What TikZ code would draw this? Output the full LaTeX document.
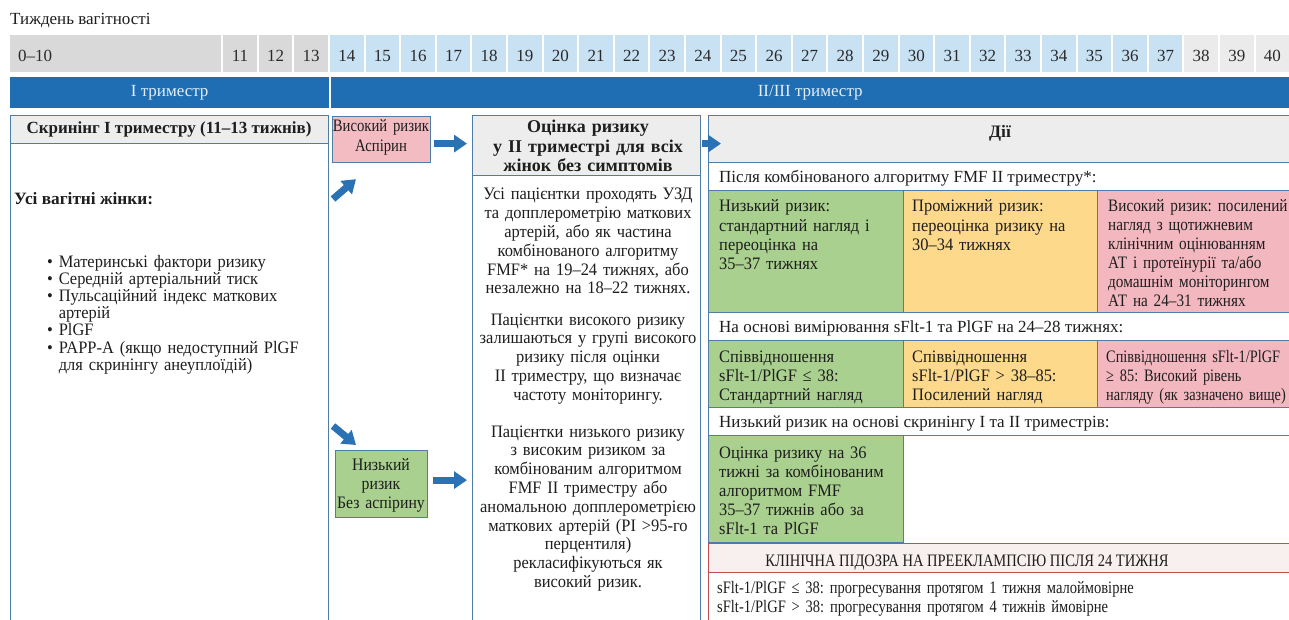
\documentclass[tikz,border=0pt]{standalone}
\usepackage{fontspec}
\setmainfont{Liberation Serif}[FakeStretch=0.94]
\newfontfamily\fw{Liberation Serif}
\newfontfamily\fn{Liberation Serif}[FakeStretch=0.87]
\newfontfamily\fnn{Liberation Serif}[FakeStretch=0.82]
\newfontfamily\fc{Liberation Serif}[FakeStretch=0.83]
\newfontfamily\fp{Liberation Serif}[FakeStretch=0.84]
\newfontfamily\fg{Liberation Serif}[FakeStretch=0.9]
\usetikzlibrary{arrows.meta}
\definecolor{bordc}{HTML}{4F7DA6}
\definecolor{hdrg}{HTML}{EDEDED}
\definecolor{wkgray}{HTML}{D9D9D9}
\definecolor{wkblue}{HTML}{C8E1F3}
\definecolor{wklight}{HTML}{EBEBEB}
\definecolor{barblue}{HTML}{1F6EB3}
\definecolor{arrowblue}{HTML}{2B72B5}
\definecolor{greenc}{HTML}{A9D08E}
\definecolor{yellowc}{HTML}{FCD98B}
\definecolor{pinkc}{HTML}{F3B7BF}
\definecolor{pinkbox}{HTML}{F3BCC2}
\definecolor{redb}{HTML}{C0504D}
\definecolor{clinh}{HTML}{F8EFEF}
\definecolor{txtc}{HTML}{1E1E1E}
\definecolor{wktxt}{HTML}{2A2A2A}
\newcommand\fsz[2]{\fontsize{#1}{#2}\selectfont}
\begin{document}
\frenchspacing
\begin{tikzpicture}[x=1pt,y=-1pt,
  every node/.style={text=txtc},
  rect/.style={draw=bordc, line width=1.2pt, inner sep=0pt, anchor=north west},
  wk/.style={fill=#1, inner sep=0pt, anchor=north west, minimum width=33.6pt, minimum height=37pt, font=\fw\fsz{17}{20}, text=wktxt, text height=15.5pt, text depth=0pt},
  bar/.style={fill=barblue, inner sep=0pt, anchor=north west, minimum height=31pt, font=\fw\fsz{17}{20}, text=white!88!barblue},
  para/.style={inner sep=0pt, text width=#1, align=center, anchor=base, font=\fsz{17.5}{18.8}},
  ltext/.style={inner sep=0pt, text width=#1, align=left, anchor=base west, font=\fsz{17.5}{19.3}},
  rowtext/.style={anchor=base west, inner sep=0pt, font=\fw\fsz{17}{20}},
  barrow/.style={draw=arrowblue, line width=7pt, -{Triangle[width=17pt,length=13pt]}},
]
\useasboundingbox (0,0) rectangle (1289,620);
\fill[white] (0,0) rectangle (1289,620);

% title
\node[anchor=base west, inner sep=0pt, font=\fw\fsz{17}{20}] (title) at (10,25) {Тиждень вагітності};

% week cells
\node[wk=wkgray, minimum width=211pt, text width=195pt, inner xsep=8pt, align=left] (w0) at (10,35) {0–10};
\foreach \w in {11,...,40}{
  \pgfmathsetmacro\xl{222+(\w-11)*35.6+1}
  \ifnum\w<14 \def\cc{wkgray}\else\ifnum\w<38 \def\cc{wkblue}\else\def\cc{wklight}\fi\fi
  \node[wk=\cc] (w\w) at (\xl,35) {\w};
}

% trimester bars
\node[bar, minimum width=319pt] (b1) at (10,77) {I триместр};
\node[bar, minimum width=958pt] (b2) at (331,77) {II/III триместр};

% left box
\node[rect, fill=hdrg, minimum width=318pt, minimum height=28pt] (lh) at (10,115) {};
\node[rect, minimum width=318pt, minimum height=482pt] (lb) at (10,143) {};
\node[anchor=base, inner sep=0pt, font=\fw\bfseries\fsz{17}{20}] (lht) at (169,134) {Скринінг I триместру (11–13 тижнів)};
\node[anchor=base west, inner sep=0pt, font=\fw\bfseries\fsz{17.3}{20}] (all) at (14,205) {Усі вагітні жінки:};
\node[ltext=270pt, font=\fsz{17.5}{17.2}] (list) at (47,267) {\textbullet\ Материнські фактори ризику\\
\textbullet\ Середній артеріальний тиск\\
\textbullet\ Пульсаційний індекс маткових\\
\hphantom{\textbullet\ }артерій\\
\textbullet\ PlGF\\
\textbullet\ PAPP-A (якщо недоступний PlGF\\
\hphantom{\textbullet\ }для скринінгу анеуплоїдій)};

% risk boxes
\node[rect, fill=pinkbox, minimum width=98pt, minimum height=46pt] (hi) at (332,116) {};
\node[para=104pt, font=\fp\fsz{17.5}{20}] (hit) at (381,132) {Високий ризик\\Аспірин};
\node[rect, fill=greenc, minimum width=92pt, minimum height=67pt] (gr) at (335,450) {};
\node[para=96pt, font=\fg\fsz{17.5}{19}] (grt) at (381,470) {Низький\\ризик\\Без аспірину};

% middle box
\node[rect, fill=hdrg, minimum width=228pt, minimum height=60pt] (mh) at (472,115) {};
\node[rect, minimum width=228pt, minimum height=450pt] (mb) at (472,175) {};
\node[para=226pt, font=\fw\bfseries\fsz{18}{19.5}] (mht) at (588,133) {Оцінка ризику\\у II триместрі для всіх\\жінок без симптомів};
\node[para=226pt] (mp1) at (588,200) {Усі пацієнтки проходять УЗД\\та допплерометрію маткових\\артерій, або як частина\\комбінованого алгоритму\\FMF* на 19–24 тижнях, або\\незалежно на 18–22 тижнях.};
\node[para=226pt] (mp2) at (588,325) {Пацієнтки високого ризику\\залишаються у групі високого\\ризику після оцінки\\II триместру, що визначає\\частоту моніторингу.};
\node[para=226pt] (mp3) at (588,437) {Пацієнтки низького ризику\\з високим ризиком за\\комбінованим алгоритмом\\FMF II триместру або\\аномальною допплерометрією\\маткових артерій (PI >95-го\\перцентиля)\\рекласифікуються як\\високий ризик.};

% right frame
\node[rect, fill=hdrg, minimum width=584pt, minimum height=47pt] (dh) at (708,115) {};
\node[anchor=base, inner sep=0pt, font=\fw\bfseries\fsz{17.5}{20}] (dht) at (1000,138) {Дії};
\node[rect, minimum width=584pt, minimum height=28pt] (r1) at (708,162) {};
\node[rowtext] (r1t) at (719,183) {Після комбінованого алгоритму FMF II триместру*:};
\node[rect, fill=greenc, minimum width=195pt, minimum height=122pt] (c1) at (708,190) {};
\node[rect, fill=yellowc, minimum width=194pt, minimum height=122pt] (c2) at (903,190) {};
\node[rect, fill=pinkc, minimum width=195pt, minimum height=122pt] (c3) at (1097,190) {};
\node[ltext=185pt] (c1t) at (719,212) {Низький ризик:\\стандартний нагляд і\\переоцінка на\\35–37 тижнях};
\node[ltext=185pt] (c2t) at (912,212) {Проміжний ризик:\\переоцінка ризику на\\30–34 тижнях};
\node[ltext=200pt, font=\fn\fsz{17.5}{19}] (c3t) at (1108,212) {Високий ризик: посилений\\нагляд з щотижневим\\клінічним оцінюванням\\АТ і протеїнурії та/або\\домашнім моніторингом\\АТ на 24–31 тижнях};

\node[rect, minimum width=584pt, minimum height=28pt] (r2) at (708,312) {};
\node[rowtext] (r2t) at (719,332) {На основі вимірювання sFlt-1 та PlGF на 24–28 тижнях:};
\node[rect, fill=greenc, minimum width=195pt, minimum height=67pt] (c4) at (708,340) {};
\node[rect, fill=yellowc, minimum width=194pt, minimum height=67pt] (c5) at (903,340) {};
\node[rect, fill=pinkc, minimum width=195pt, minimum height=67pt] (c6) at (1097,340) {};
\node[ltext=185pt, font=\fsz{17.5}{19}] (c4t) at (719,362) {Співвідношення\\sFlt-1/PlGF ≤ 38:\\Стандартний нагляд};
\node[ltext=185pt, font=\fsz{17.5}{19}] (c5t) at (912,362) {Співвідношення\\sFlt-1/PlGF > 38–85:\\Посилений нагляд};
\node[ltext=185pt, font=\fnn\fsz{17.5}{19}] (c6t) at (1106,362) {Співвідношення sFlt-1/PlGF\\≥ 85: Високий рівень\\нагляду (як зазначено вище)};

\node[rect, minimum width=584pt, minimum height=28pt] (r3) at (708,407) {};
\node[rowtext] (r3t) at (719,427) {Низький ризик на основі скринінгу I та II триместрів:};
\node[rect, fill=greenc, minimum width=195pt, minimum height=107pt] (c7) at (708,435) {};
\node[ltext=185pt, font=\fsz{17.5}{19}] (c7t) at (719,458) {Оцінка ризику на 36\\тижні за комбінованим\\алгоритмом FMF\\35–37 тижнів або за\\sFlt-1 та PlGF};

% clinical box
\node[rect, draw=redb, fill=clinh, minimum width=584pt, minimum height=29pt] (kh) at (708,543) {};
\node[rect, draw=redb, minimum width=584pt, minimum height=85pt] (kb) at (708,572) {};
\node[anchor=base, inner sep=0pt, font=\fc\fsz{17.5}{20}] (kht) at (967,566) {КЛІНІЧНА ПІДОЗРА НА ПРЕЕКЛАМПСІЮ ПІСЛЯ 24 ТИЖНЯ};
\node[ltext=560pt, font=\fc\fsz{17.5}{19}] (kbt) at (717,593) {sFlt-1/PlGF ≤ 38: прогресування протягом 1 тижня малоймовірне\\sFlt-1/PlGF > 38: прогресування протягом 4 тижнів ймовірне};

% arrows
\coordinate (d1) at (333,199);
\coordinate (d2) at (333,426);
\draw[barrow] ([shift={(3,4)}]hi.east) -- ([shift={(-5,4)}]hi.east -| mh.west);
\draw[barrow] ([shift={(5,-4)}]gr.east) -- ([shift={(-5,-4)}]gr.east -| mb.west);
\draw[barrow] ([shift={(1,-2)}]mh.east) -- ([shift={(13,-2)}]mh.east -| dh.west);
\draw[barrow] (d1) -- ([shift={(24,16)}]hi.south west);
\draw[barrow] (d2) -- ([shift={(21,-5)}]gr.north west);
\end{tikzpicture}
\end{document}
